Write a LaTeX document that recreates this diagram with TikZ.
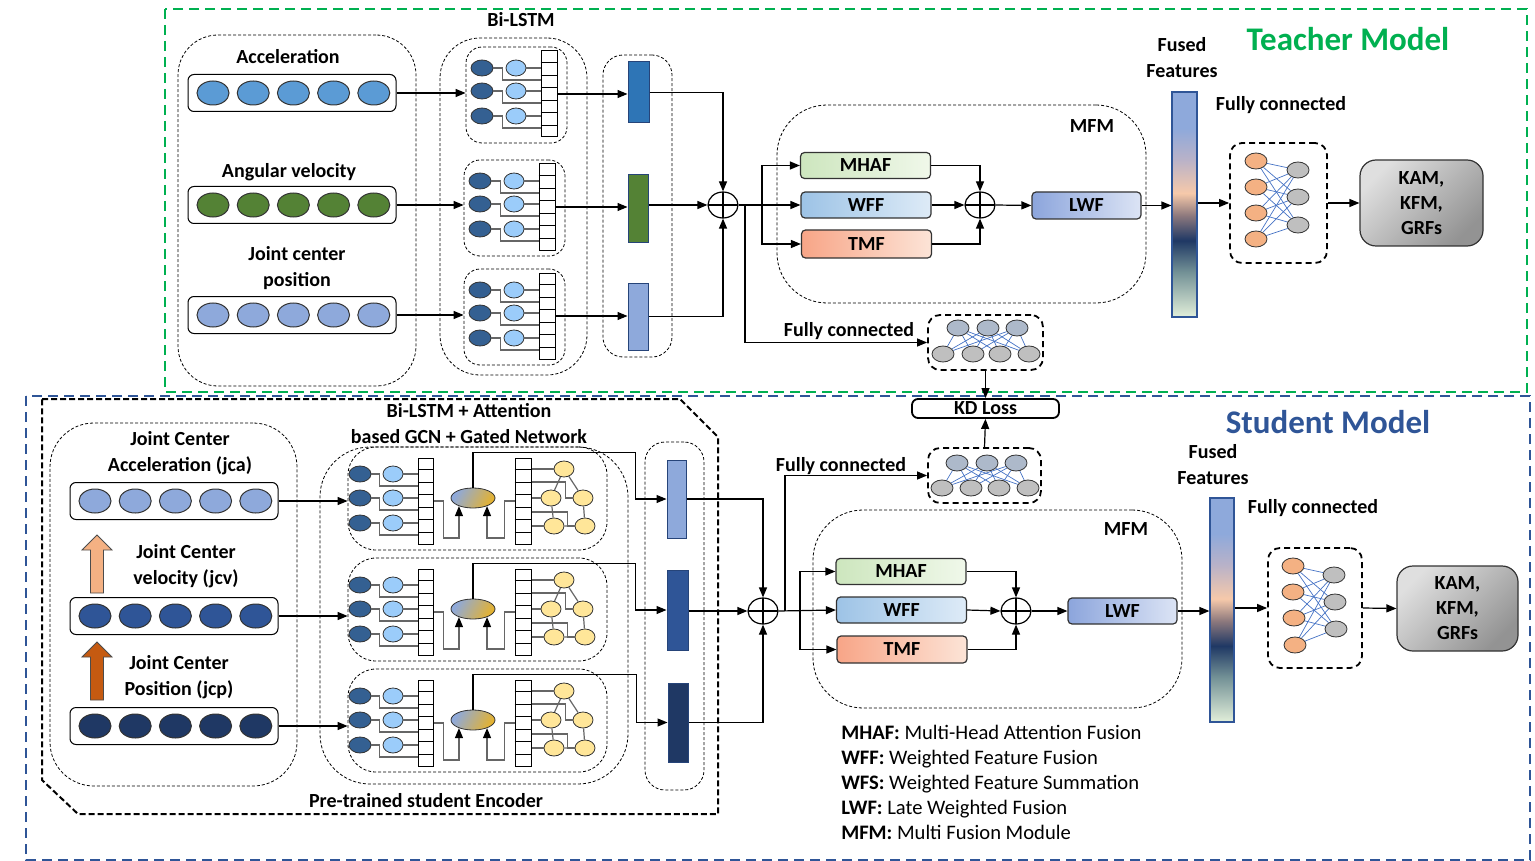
\documentclass[tikz,border=0pt]{standalone}
\usepackage{fontspec}
\setmainfont{Carlito}
\usetikzlibrary{arrows.meta,shapes.geometric,calc}

\definecolor{tgreen}{RGB}{0,176,80}
\definecolor{sblue}{RGB}{47,85,151}
\definecolor{accblue}{RGB}{91,155,213}
\definecolor{gyrgreen}{RGB}{84,130,53}
\definecolor{posblue}{RGB}{142,169,219}
\definecolor{jcpnavy}{RGB}{31,56,100}
\definecolor{lstmdark}{RGB}{52,96,146}
\definecolor{lstmlight}{RGB}{155,204,250}
\definecolor{barblue}{RGB}{46,117,182}
\definecolor{gcnyellow}{RGB}{255,230,153}
\definecolor{attgold}{RGB}{228,178,48}
\definecolor{fcorange}{RGB}{244,177,131}
\definecolor{fcgray}{RGB}{191,191,191}
\definecolor{fcbluegray}{RGB}{173,185,202}
\definecolor{fcline}{RGB}{68,114,196}
\definecolor{peach}{RGB}{244,177,131}
\definecolor{rust}{RGB}{197,90,17}
\definecolor{mhafL}{RGB}{205,230,190}
\definecolor{mhafR}{RGB}{240,248,234}
\definecolor{wffL}{RGB}{157,195,230}
\definecolor{wffR}{RGB}{222,235,247}
\definecolor{tmfL}{RGB}{248,165,135}
\definecolor{tmfR}{RGB}{252,228,215}
\definecolor{lwfL}{RGB}{140,165,220}
\definecolor{lwfR}{RGB}{220,228,245}
\definecolor{ffblue}{RGB}{142,169,219}
\definecolor{fflav}{RGB}{185,178,200}
\definecolor{ffpeach}{RGB}{246,201,170}
\definecolor{ffbrown}{RGB}{140,120,125}
\definecolor{ffnavy}{RGB}{31,56,100}
\definecolor{ffteal}{RGB}{115,145,150}
\definecolor{ffgreen}{RGB}{226,239,218}

\pgfdeclareverticalshading{fused}{100bp}{color(0bp)=(ffgreen); color(25bp)=(ffgreen);
  color(35bp)=(ffteal); color(42bp)=(ffnavy); color(47.5bp)=(ffbrown);
  color(52.5bp)=(ffpeach); color(60bp)=(fflav); color(67bp)=(ffblue);
  color(75bp)=(ffblue); color(100bp)=(ffblue)}

\begin{document}
\begin{tikzpicture}[x=0.5pt,y=-0.5pt,>={Triangle[length=5pt,width=4pt,color=black]},
  line width=0.6pt,font=\fontsize{10}{13}\selectfont\bfseries]
  \tikzstyle{frame}=[line width=1.1pt,dash pattern=on 5pt off 3pt]
  \tikzstyle{blk}=[draw,dash pattern=on 1.5pt off 1pt,line width=0.4pt,rounded corners=10pt,inner sep=0pt]
  \tikzstyle{row}=[draw,rounded corners=3pt,minimum width=104pt,minimum height=18.5pt,line width=0.5pt]
  \tikzstyle{feat}=[ellipse,draw=black!80,line width=0.5pt,minimum width=16pt,minimum height=12pt,inner sep=0pt]
  \tikzstyle{lstmd}=[ellipse,draw=black!80,fill=lstmdark,minimum width=11pt,minimum height=8pt,inner sep=0pt,line width=0.4pt]
  \tikzstyle{lstml}=[lstmd,fill=lstmlight,minimum width=10pt]
  \tikzstyle{gcnnode}=[lstmd,fill=gcnyellow,minimum width=10pt]
  \tikzstyle{stack}=[draw,minimum width=8pt,minimum height=43pt,inner sep=0pt,line width=0.5pt]
  \tikzstyle{gline}=[draw=black!60,line width=0.6pt]
  \tikzstyle{bar}=[draw=sblue!80!black,inner sep=0pt,line width=0.5pt]
  \tikzstyle{oplus}=[ellipse,draw,minimum width=15pt,minimum height=13pt,inner sep=0pt,
    path picture={\draw (path picture bounding box.north) -- (path picture bounding box.south)
      (path picture bounding box.west) -- (path picture bounding box.east);}]
  \tikzstyle{fusion}=[draw=black!80,rounded corners=2pt,minimum width=65pt,minimum height=13pt,inner sep=0pt]
  \tikzstyle{fcbox}=[draw,line width=0.9pt,dash pattern=on 3pt off 2pt,rounded corners=6pt]
  \tikzstyle{neuron}=[ellipse,draw=black!80,minimum width=11pt,minimum height=8pt,inner sep=0pt,line width=0.4pt]
  \tikzstyle{wire}=[draw=fcline,line width=0.35pt]
  \tikzstyle{fusedbar}=[draw=sblue,shade,shading=fused,inner sep=0pt,minimum width=12.5pt]
  \tikzstyle{outbox}=[draw=black!80,rounded corners=8pt,minimum width=61.5pt,minimum height=43pt,
    top color=gray!25,bottom color=gray!85,shading angle=45,align=center,font=\fontsize{10}{12.5}\selectfont\bfseries]

  \useasboundingbox (0,0) rectangle (1535,861);

  % frames
  \draw[frame,draw=tgreen] (165,9) rectangle (1527,392);
  \draw[frame,draw=sblue] (26,396) rectangle (1530,860);
  \node[text=tgreen,font=\fontsize{16.5}{20}\selectfont\bfseries] (tmodel) at (1348,39) {Teacher Model};
  \node[text=sblue,font=\fontsize{16.5}{20}\selectfont\bfseries] (smodel) at (1328,422) {Student Model};

  % teacher inputs
  \node[blk,rounded corners=20pt,minimum width=119pt,minimum height=175.5pt] (tin) at (297,210.5) {};
  \foreach \k/\yy/\col/\lbl/\lx/\ly in {1/93/accblue/Acceleration/288/57,
      2/205/gyrgreen/Angular velocity/289/172,
      3/315/posblue/{Joint center\\position}/297/268} {
    \node[align=center] (tlbl\k) at (\lx,\ly) {\lbl};
    \node[row] (trow\k) at (292,\yy) {};
    \foreach \i in {0,...,4}
      \node[feat,fill=\col] (tx\k\i) at (213+40.2*\i,\yy) {};
  }

  % teacher Bi-LSTM
  \node[blk,rounded corners=20pt,minimum width=73.5pt,minimum height=168.5pt] (tlstm) at (513.5,206.5) {};
  \node (tlstmlbl) at (521,20) {Bi-LSTM};
  \node[blk,minimum width=34.5pt,minimum height=151pt] (tfeat) at (637.5,206) {};
  \foreach \k/\dx/\dy in {1/0/0,2/-2/113,3/-2/222} {
    \begin{scope}[shift={(\dx,\dy)}]
      \node[blk,rounded corners=8pt,minimum width=50.5pt,minimum height=48pt] (tblk\k) at (516.5,95) {};
      \node[stack] (tstk\k) at (549,94) {};
      \foreach \m in {1,...,6}
        \draw[line width=0.5pt] ($(tstk\k.north west)!\m/7!(tstk\k.south west)$) -- ($(tstk\k.north east)!\m/7!(tstk\k.south east)$);
      \foreach \j/\yy in {1/68,2/91,3/116} {
        \node[lstmd] (tdk\k\j) at (482,\yy) {};
        \node[lstml] (tlt\k\j) at (516,\yy) {};
        \draw[gline] (tlt\k\j.east) -- (tlt\k\j.east -| tstk\k.west);
        \draw[gline] (tdk\k\j.east) -- ++(9,0) -- ++(0,12) coordinate (tmp) -- (tmp -| tstk\k.west);
      }
    \end{scope}
    \draw[->] (trow\k.east) -- (trow\k.east -| tblk\k.west);
  }
  \node[bar,fill=barblue,minimum width=10.5pt,minimum height=30.5pt] (tb1) at (638.5,92.5) {};
  \node[bar,fill=gyrgreen,minimum width=10pt,minimum height=34pt] (tb2) at (638,209) {};
  \node[bar,fill=posblue,minimum width=10pt,minimum height=33.5pt] (tb3) at (638,316.5) {};
  \foreach \k in {1,2,3}
    \draw[->] (tstk\k.east) -- (tstk\k.east -| tb\k.west);

  % teacher fusion
  \node[oplus] (tsum) at (723,205) {};
  \draw[->] (tb1.east) -| (tsum.north);
  \draw[->] (tb2.east |- tsum) -- (tsum.west);
  \draw[->] (tb3.east) -| (tsum.south);
  \node[blk,rounded corners=25pt,minimum width=184.5pt,minimum height=99pt] (tmfm) at (961.5,204) {};
  \node (tmfmlbl) at (1092,126) {MFM};
  \node[fusion,left color=mhafL,right color=mhafR] (tmhaf) at (865.5,165.5) {MHAF};
  \node[fusion,left color=wffL,right color=wffR] (twff) at (866,205) {WFF};
  \node[fusion,left color=tmfL,right color=tmfR,minimum height=14pt] (ttmf) at (866.5,244) {TMF};
  \coordinate (tbr) at (762,205);
  \coordinate (tkd) at (745,205);
  \draw[->] (tsum.east) -- (twff.west);
  \draw[->] (tbr) |- (tmhaf.west);
  \draw[->] (tbr) |- (ttmf.west);
  \node[oplus] (tsum2) at (980,205) {};
  \draw[->] (tmhaf.east) -| (tsum2.north);
  \draw[->] (twff.east) -- (tsum2.west);
  \draw[->] (ttmf.east) -| (tsum2.south);
  \node[fusion,left color=lwfL,right color=lwfR,minimum width=54.5pt,minimum height=13.5pt] (tlwf) at (1086.5,205.5) {LWF};
  \draw[->] (tsum2.east) -- (tlwf.west);
  \node[fusedbar,minimum height=112.5pt] (tff) at (1184.5,204.5) {};
  \node[align=center] (tfflbl) at (1182,57.5) {Fused\\Features};
  \draw[->] (tlwf.east) -- (tlwf.east -| tff.west);

  % teacher head
  \node[fcbox,minimum width=48.5pt,minimum height=60pt] (tfc) at (1278.5,203) {};
  \node (tfclbl) at (1281,105) {Fully connected};
  \foreach \a/\ya in {1/161,2/187,3/213,4/239}
    \node[neuron,fill=fcorange] (to\a) at (1256,\ya) {};
  \foreach \b/\yb in {1/170,2/197,3/225}
    \node[neuron,fill=fcgray] (tg\b) at (1298,\yb) {};
  \foreach \a in {1,...,4}
    \foreach \b in {1,2,3}
      \draw[wire] (to\a) -- (tg\b);
  \draw[->] (tff.east |- tfc.west) -- (tfc.west);
  \node[outbox] (tout) at (1421.5,203) {KAM,\\KFM,\\GRFs};
  \draw[->] (tfc.east) -- (tout.west);

  % distillation
  \node[fcbox,minimum width=57.5pt,minimum height=27.5pt] (tkdfc) at (985.5,342.5) {};
  \node (tkdlbl) at (849,331) {Fully connected};
  \foreach \a/\xa in {1/958,2/988,3/1017}
    \node[neuron,fill=fcbluegray] (tku\a) at (\xa,328) {};
  \foreach \b/\xb in {1/943,2/973,3/1000,4/1029}
    \node[neuron,fill=fcgray] (tkl\b) at (\xb,354) {};
  \foreach \a in {1,2,3}
    \foreach \b in {1,...,4}
      \draw[wire] (tku\a) -- (tkl\b);
  \draw[->] (tkd) |- (tkdfc.west);
  \node[draw,line width=0.9pt,rounded corners=3pt,minimum width=73.5pt,minimum height=9.5pt,inner sep=0pt] (kd) at (985.5,408.5) {KD Loss};
  \draw[->] (tkdfc.south) -- (kd.north);
  \node[fcbox,minimum width=56.5pt,minimum height=27.5pt] (skdfc) at (984.5,475.5) {};
  \node (skdlbl) at (841,466) {Fully connected};
  \foreach \a/\xa in {1/957,2/987,3/1016}
    \node[neuron,fill=fcbluegray] (sku\a) at (\xa,463) {};
  \foreach \b/\xb in {1/942,2/971,3/999,4/1028}
    \node[neuron,fill=fcgray] (skl\b) at (\xb,488) {};
  \foreach \a in {1,2,3}
    \foreach \b in {1,...,4}
      \draw[wire] (sku\a) -- (skl\b);
  \draw[->] (skdfc.north) -- (kd.south);

  % student encoder
  \draw[line width=1pt,dash pattern=on 3pt off 1.5pt] (42,399) -- (680,399) -- (718,437) -- (718,814) -- (78,814) -- (42,780) -- cycle;
  \node[align=center] (sgcnlbl) at (469,423.5) {Bi-LSTM + Attention\\based GCN + Gated Network};
  \node (senclbl) at (426,801) {Pre-trained student Encoder};
  \node[blk,rounded corners=22pt,minimum width=123.5pt,minimum height=181.5pt] (sin) at (173.5,604.5) {};
  \foreach \k/\yy/\col in {1/501/posblue,2/616/sblue,3/726/jcpnavy} {
    \node[row] (srow\k) at (174,\yy) {};
    \foreach \i in {0,...,4}
      \node[feat,fill=\col] (sx\k\i) at (95+40.2*\i,\yy) {};
  }
  \node[align=center] (slbl1) at (180,453.5) {Joint Center\\Acceleration (jca)};
  \node[align=center] (slbl2) at (186,566.5) {Joint Center\\velocity (jcv)};
  \node[align=center] (slbl3) at (179,677.5) {Joint Center\\Position (jcp)};
  \filldraw[fill=peach,draw=black!70,line width=0.4pt] (90.5,593) -- (90.5,550) -- (82,550) -- (97,535)
    -- (112,550) -- (103.5,550) -- (103.5,593) -- cycle;
  \filldraw[fill=rust,draw=black!70,line width=0.4pt] (90.5,700) -- (90.5,657) -- (82,657) -- (97,642)
    -- (112,657) -- (103.5,657) -- (103.5,700) -- cycle;

  \node[blk,rounded corners=25pt,minimum width=154pt,minimum height=168.5pt] (sgcn) at (474,615.5) {};
  \node[blk,minimum width=29.5pt,minimum height=174pt] (sfeat) at (674.5,616) {};
  \node[bar,fill=posblue,minimum width=9.5pt,minimum height=39pt] (sb1) at (676.5,499) {};
  \node[bar,fill=sblue,minimum width=10.5pt,minimum height=40pt] (sb2) at (677.5,610) {};
  \node[bar,fill=jcpnavy,minimum width=10pt,minimum height=39.5pt] (sb3) at (678,722.5) {};
  \foreach \k/\dy in {1/0,2/111,3/222} {
    \begin{scope}[shift={(0,\dy)}]
      \node[blk,rounded corners=14pt,minimum width=129.5pt,minimum height=51.5pt] (sblk\k) at (477.5,498.5) {};
      \node[stack,minimum width=7.5pt] (ss\k) at (425.5,501) {};
      \node[stack] (st\k) at (523,501) {};
      \foreach \m in {1,...,6} {
        \draw[line width=0.5pt] ($(ss\k.north west)!\m/7!(ss\k.south west)$) -- ($(ss\k.north east)!\m/7!(ss\k.south east)$);
        \draw[line width=0.5pt] ($(st\k.north west)!\m/7!(st\k.south west)$) -- ($(st\k.north east)!\m/7!(st\k.south east)$);
      }
      \foreach \j/\yy in {1/474,2/498,3/523} {
        \node[lstmd] (sdk\k\j) at (360,\yy) {};
        \node[lstml] (slt\k\j) at (393,\yy) {};
        \draw[gline] (slt\k\j.east) -- (slt\k\j.east -| ss\k.west);
        \draw[gline] (sdk\k\j.east) -- ++(8,0) -- ++(0,12) coordinate (tmp) -- (tmp -| ss\k.west);
      }
      \node[ellipse,draw=black!80,line width=0.4pt,minimum width=22pt,minimum height=10pt,inner sep=0pt,
        left color=posblue,right color=attgold,shading angle=60] (att\k) at (473,498) {};
      \node[gcnnode] (gy\k1) at (564,469) {};
      \node[gcnnode] (gy\k2) at (551,498) {};
      \node[gcnnode] (gy\k3) at (583,498) {};
      \node[gcnnode] (gy\k4) at (554,526) {};
      \node[gcnnode] (gy\k5) at (585,526) {};
      \draw[gline] (gy\k1) -- (gy\k2) (gy\k1) -- (gy\k3) (gy\k2) -- (gy\k4)
        (gy\k3) -- (gy\k5) (gy\k4) -- (gy\k5);
      \draw[gline] (st\k.east |- gy\k1) -- (gy\k1.west);
      \draw[gline] (st\k.east |- gy\k2) -- (gy\k2.west);
      \draw[gline] (st\k.east |- gy\k4) -- (gy\k4.west);
      \draw[gline] ($(st\k.east |- gy\k1)+(0,13)$) -- ++(34,0) |- (gy\k3.west);
      \draw[gline] ($(st\k.east |- gy\k2)+(0,14)$) -- ++(36,0) |- (gy\k5.west);
      \draw[->,gline] (ss\k.east) -- ++(10,0) -- ++(0,37) -| (att\k.-150);
      \draw[->,gline] (st\k.west) -- ++(-10,0) -- ++(0,37) -| (att\k.-30);
      \draw[->] (att\k.north) -- ++(0,-35) -| ([xshift=-15.5pt]sb\k.west) -- (sb\k.west);
    \end{scope}
    \draw[->] (srow\k.east) -- (srow\k.east -| sblk\k.west);
  }

  % student fusion
  \node[oplus] (ssum) at (763,611) {};
  \draw[->] (sb1.east) -| (ssum.north);
  \draw[->] (sb2.east |- ssum) -- (ssum.west);
  \draw[->] (sb3.east) -| (ssum.south);
  \node[blk,rounded corners=25pt,minimum width=184.5pt,minimum height=99pt] (smfm) at (997.5,609) {};
  \node (smfmlbl) at (1126,529) {MFM};
  \node[fusion,left color=mhafL,right color=mhafR] (smhaf) at (901,571.5) {MHAF};
  \node[fusion,left color=wffL,right color=wffR] (swff) at (901.5,610) {WFF};
  \node[fusion,left color=tmfL,right color=tmfR,minimum height=13.5pt] (stmf) at (902,649.5) {TMF};
  \coordinate (sbr) at (800,611);
  \coordinate (skd) at (785,611);
  \draw[->] (ssum.east) -- (swff.west);
  \draw[->] (sbr) |- (smhaf.west);
  \draw[->] (sbr) |- (stmf.west);
  \draw[->] (skd) |- (skdfc.west);
  \node[oplus] (ssum2) at (1016,611) {};
  \draw[->] (smhaf.east) -| (ssum2.north);
  \draw[->] (swff.east) -- (ssum2.west);
  \draw[->] (stmf.east) -| (ssum2.south);
  \node[fusion,left color=lwfL,right color=lwfR,minimum width=54.5pt,minimum height=13pt] (slwf) at (1122.5,611) {LWF};
  \draw[->] (ssum2.east) -- (slwf.west);
  \node[fusedbar,minimum width=12pt,minimum height=112pt] (sff) at (1222,610) {};
  \node[align=center] (sfflbl) at (1213,464.5) {Fused\\Features};
  \draw[->] (slwf.east) -- (slwf.east -| sff.west);

  % student head
  \node[fcbox,minimum width=47pt,minimum height=60pt] (sfc) at (1315,608) {};
  \node (sfclbl) at (1313,508) {Fully connected};
  \foreach \a/\xa/\ya in {1/1293/566,2/1293/592,3/1294/618,4/1295/645}
    \node[neuron,fill=fcorange] (so\a) at (\xa,\ya) {};
  \foreach \b/\xb/\yb in {1/1334/575,2/1335/602,3/1336/629}
    \node[neuron,fill=fcgray] (sg\b) at (\xb,\yb) {};
  \foreach \a in {1,...,4}
    \foreach \b in {1,2,3}
      \draw[wire] (so\a) -- (sg\b);
  \draw[->] (sff.east |- sfc.west) -- (sfc.west);
  \node[outbox,minimum width=60.5pt,minimum height=42.5pt] (sout) at (1457.5,608.5) {KAM,\\KFM,\\GRFs};
  \draw[->] (sfc.east) -- (sout.west);

  \node[anchor=west,align=left,font=\fontsize{10.3}{12.5}\selectfont] (legend) at (834,782)
    {\textbf{MHAF:} Multi-Head Attention Fusion\\
     \textbf{WFF:} Weighted Feature Fusion\\
     \textbf{WFS:} Weighted Feature Summation\\
     \textbf{LWF:} Late Weighted Fusion\\
     \textbf{MFM:} Multi Fusion Module};
\end{tikzpicture}
\end{document}
